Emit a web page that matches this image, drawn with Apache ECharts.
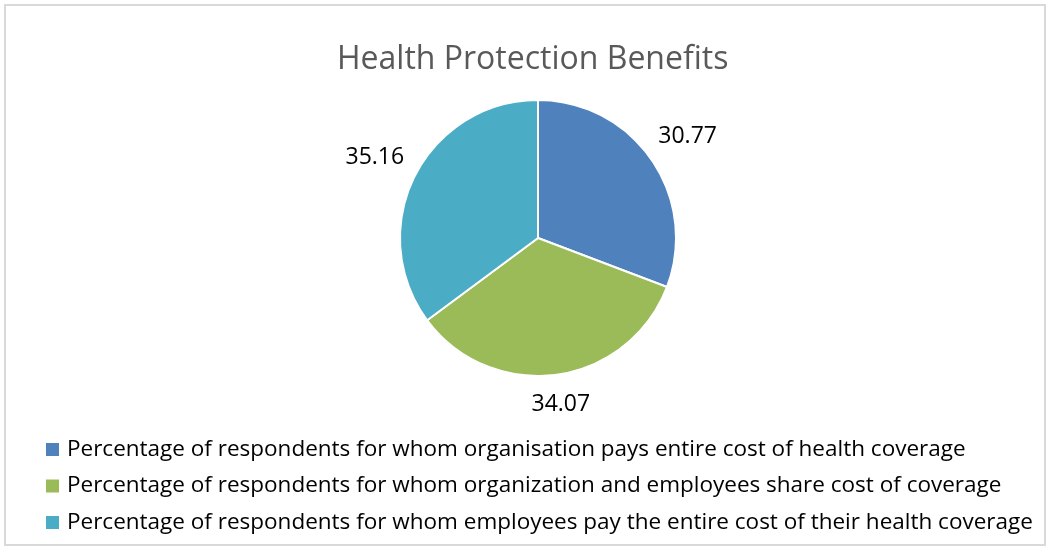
<!DOCTYPE html>
<html><head><meta charset="utf-8">
<script src="https://cdn.jsdelivr.net/npm/echarts@6/dist/echarts.min.js"></script>
<style>html,body{margin:0;padding:0;background:#fff}#c{width:1051px;height:551px}</style>
</head><body><div id="c"></div>
<script>
const title = 'Health Protection Benefits';
const categories = [
  'Percentage of respondents for whom organisation pays entire cost of health coverage',
  'Percentage of respondents for whom organization and employees share cost of coverage',
  'Percentage of respondents for whom employees pay the entire cost of their health coverage'
];
const values = [30.77, 34.07, 35.16];
const colors = ['#4F81BD', '#9BBB59', '#4BACC6'];

const CX = 538, CY = 238, R = 138;
const total = values.reduce((a, b) => a + b, 0);

const chart = echarts.init(document.getElementById('c'));
chart.setOption({
  backgroundColor: '#fff',
  animation: false,
  graphic: [{type:'rect', shape:{x:5, y:5, width:1040, height:540}, style:{fill:'none', stroke:'#d9d9d9', lineWidth:2}, silent:true}],
  title: {text: title, left: 332, top: 39, textStyle:{fontFamily:'Open Sans', fontSize:32, fontWeight:'normal', color:'#595959'}},
  legend: {
    orient:'vertical', left: 39, top: 433, itemWidth: 15, itemHeight: 15, itemGap: 13.5, icon:'rect',
    textStyle:{fontFamily:'Open Sans', fontSize:22.5, color:'#000', padding:[0,0,0,2]},
    data: categories
  },
  series: [{
    type:'pie', center:[CX, CY], radius:R, startAngle:90, clockwise:true,
    color: colors,
    itemStyle:{borderColor:'#fff', borderWidth:2},
    label:{show:true, position:'outside', formatter: p => p.value.toFixed(2), fontFamily:'Open Sans', fontSize:23, color:'#000'},
    labelLine:{show:false, length:15, length2:0},
    labelLayout: function (params) {
      const i = params.dataIndex;
      let before = 0;
      for (let k = 0; k < i; k++) before += values[k];
      const mid = (before + values[i] / 2) / total * Math.PI * 2;
      const dx = Math.sin(mid), dy = -Math.cos(mid);
      const hw = params.labelRect.width / 2, hh = 10;
      const d = R + 14 + Math.abs(dx) * hw + Math.abs(dy) * hh;
      return {x: CX + dx * d, y: CY + dy * d + 2, align: 'center', verticalAlign: 'middle'};
    },
    data: categories.map((n,i)=>({name:n, value:values[i]}))
  }]
});
</script></body></html>
